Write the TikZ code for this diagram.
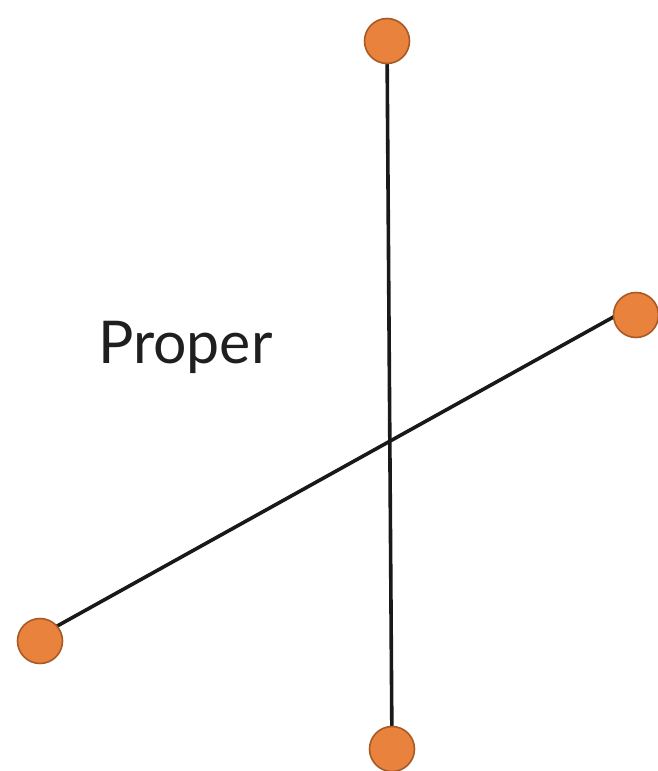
\documentclass[tikz,border=0pt]{standalone}
\usepackage{fontspec}
\setmainfont{Lato}
\definecolor{dotfill}{HTML}{E9823D}
\definecolor{dotedge}{HTML}{A85A25}
\begin{document}
\begin{tikzpicture}[x=1pt,y=-1pt,
  dot/.style={circle,fill=dotfill,draw=dotedge,line width=1.6pt,minimum size=45pt,inner sep=0pt},
  bar/.style={line width=3.6pt,black!90}]
\useasboundingbox (0,0) rectangle (657,771);
\coordinate (tend) at (387,41);
\coordinate (bend) at (392,749);
\coordinate (lend) at (50,630);
\coordinate (rend) at (626,310);
\draw[bar] (tend) -- (bend);
\draw[bar] (lend) -- (rend);
\node[dot] (top) at (tend) {};
\node[dot] (bot) at (bend) {};
\node[dot] (lft) at (40,641) {};
\node[dot] (rgt) at (636,315) {};
\node[anchor=base west,inner sep=0pt,font=\fontsize{59}{68}\selectfont,text=black!88] (lbl) at (98,363) {Proper};
\end{tikzpicture}
\end{document}
